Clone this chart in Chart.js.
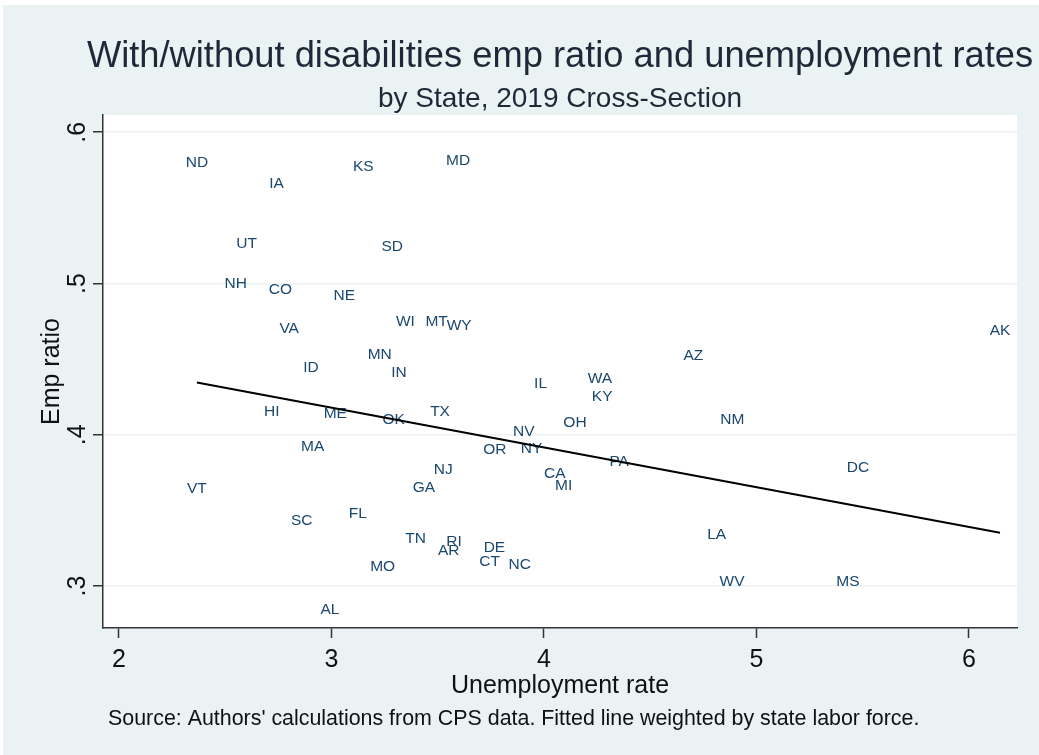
<!DOCTYPE html>
<html>
<head>
<meta charset="utf-8">
<script src="https://cdn.jsdelivr.net/npm/chart.js@4"></script>
<style>
  html, body { margin: 0; padding: 0; background: #fff; }
  #wrap { position: absolute; left: 3px; top: 5px; width: 1036px; height: 750px; }
</style>
</head>
<body>
<div id="wrap"><canvas id="chart" width="1036" height="750"></canvas></div>
<script>
// state codes (label centres)
const states = ['ND','IA','KS','MD','UT','SD','NH','CO','NE','VA','WI','MT','WY','AK','MN','AZ','ID','IN','IL','WA','KY',
                'HI','ME','OK','TX','OH','NM','NV','MA','OR','NY','NJ','PA','DC','CA','MI','GA','VT','FL','SC','TN',
                'RI','AR','DE','LA','CT','NC','MO','WV','MS','AL'];
const unempRate = [2.367,2.742,3.150,3.596,2.601,3.286,2.550,2.760,3.060,2.801,3.348,3.495,3.601,6.146,3.227,4.703,2.904,3.318,3.984,4.263,4.274,
                   2.719,3.018,3.293,3.511,4.146,4.886,3.905,2.912,3.769,3.942,3.526,4.354,5.478,4.051,4.093,3.435,2.367,3.124,2.860,3.396,
                   3.577,3.552,3.767,4.813,3.744,3.886,3.241,4.885,5.430,2.993];
const empRatio = [0.580,0.566,0.577,0.581,0.526,0.524,0.500,0.496,0.492,0.470,0.475,0.475,0.472,0.469,0.453,0.452,0.444,0.441,0.434,0.437,0.425,
                  0.415,0.414,0.410,0.415,0.408,0.410,0.402,0.392,0.390,0.391,0.377,0.382,0.378,0.374,0.366,0.365,0.364,0.348,0.343,0.331,
                  0.329,0.323,0.325,0.334,0.316,0.314,0.313,0.303,0.303,0.284];

// weighted fitted line, end points
const fitX = [2.367, 6.146];
const fitY = [0.4345, 0.3352];

const xTicks = [2, 3, 4, 5, 6];
const yTicks = [0.3, 0.4, 0.5, 0.6];
const yTickLabels = ['.3', '.4', '.5', '.6'];

const titleText = 'With/without disabilities emp ratio and unemployment rates';
const subtitleText = 'by State, 2019 Cross-Section';
const noteText = "Source: Authors' calculations from CPS data. Fitted line weighted by state labor force.";

(function(){
    const FONT = '"Liberation Sans", Arial, sans-serif';
    const canvas = document.getElementById('chart');
    const ctx = canvas.getContext('2d');

    // background, state labels, titles and rotated y tick labels
    const stataLook = {
        id: 'stataLook',
        beforeDraw(chart){
            const c = chart.ctx, a = chart.chartArea;
            c.save();
            c.fillStyle = '#eaf2f3';
            c.fillRect(0, 0, chart.width, chart.height);
            c.fillStyle = '#ffffff';
            c.fillRect(a.left, a.top, a.right - a.left, a.bottom - a.top);
            c.restore();
        },
        afterDatasetDraw(chart, args){
            if(args.index !== 1) return;
            const c = chart.ctx;
            c.save();
            c.font = '15.5px ' + FONT;
            c.fillStyle = '#1a476f';
            c.textAlign = 'center';
            c.textBaseline = 'middle';
            args.meta.data.forEach((pt, i) => c.fillText(states[i], pt.x, pt.y));
            c.restore();
        },
        afterDraw(chart){
            const c = chart.ctx, a = chart.chartArea;
            const cx = (a.left + a.right) / 2;
            c.save();
            c.fillStyle = '#1e2838';
            c.textAlign = 'center';
            c.textBaseline = 'alphabetic';
            c.font = '36.3px ' + FONT;
            c.fillText(titleText, cx, 62);
            c.font = '28px ' + FONT;
            c.fillText(subtitleText, cx, 102);

            c.fillStyle = '#111';
            c.font = '25px ' + FONT;
            const ys = chart.scales.y;
            yTicks.forEach((v, i) => {
                c.save();
                c.translate(82, ys.getPixelForValue(v));
                c.rotate(-Math.PI / 2);
                c.fillText(yTickLabels[i], 0, 0);
                c.restore();
            });

            c.textAlign = 'left';
            c.font = '21.4px ' + FONT;
            c.fillText(noteText, 105, 720);
            c.restore();
        }
    };

    new Chart(ctx, {
        type: 'scatter',
        data: {
            datasets: [
                {
                    label: 'Fitted values',
                    data: fitX.map((x, i) => ({x: x, y: fitY[i]})),
                    showLine: true,
                    borderColor: '#000',
                    borderWidth: 2,
                    pointRadius: 0
                },
                {
                    label: 'Emp ratio',
                    data: states.map((s, i) => ({x: unempRate[i], y: empRatio[i]})),
                    pointRadius: 0,
                    pointHoverRadius: 0
                }
            ]
        },
        options: {
            responsive: false,
            animation: false,
            devicePixelRatio: 1,
            events: [],
            layout: { padding: { top: 110, right: 22, left: 0, bottom: 0 } },
            plugins: { legend: { display: false }, tooltip: { enabled: false } },
            scales: {
                x: {
                    type: 'linear', min: 1.925, max: 6.226,
                    afterBuildTicks: s => { s.ticks = xTicks.map(v => ({value: v})); },
                    afterFit: s => { s.height = 127; },
                    grid: { drawOnChartArea: false, tickLength: 10, tickColor: '#333', tickWidth: 1.5 },
                    border: { color: '#333', width: 1.5 },
                    ticks: { color: '#111', font: { family: FONT, size: 25 }, padding: 7, maxRotation: 0,
                             callback: v => String(v) },
                    title: { display: true, text: 'Unemployment rate', color: '#111',
                             font: { family: FONT, size: 25 }, padding: { top: 0, bottom: 54 } }
                },
                y: {
                    type: 'linear', min: 0.2722, max: 0.6114,
                    afterBuildTicks: s => { s.ticks = yTicks.map(v => ({value: v})); },
                    afterFit: s => { s.width = 100; },
                    grid: { color: '#eaf2f3', lineWidth: 1.5, tickLength: 10, tickColor: '#333', tickWidth: 1.5 },
                    border: { color: '#333', width: 1.5 },
                    ticks: { display: false },
                    title: { display: true, text: 'Emp ratio', color: '#111',
                             font: { family: FONT, size: 25 }, padding: { top: 34, bottom: 0 } }
                }
            }
        },
        plugins: [stataLook]
    });
})();
</script>
</body>
</html>
